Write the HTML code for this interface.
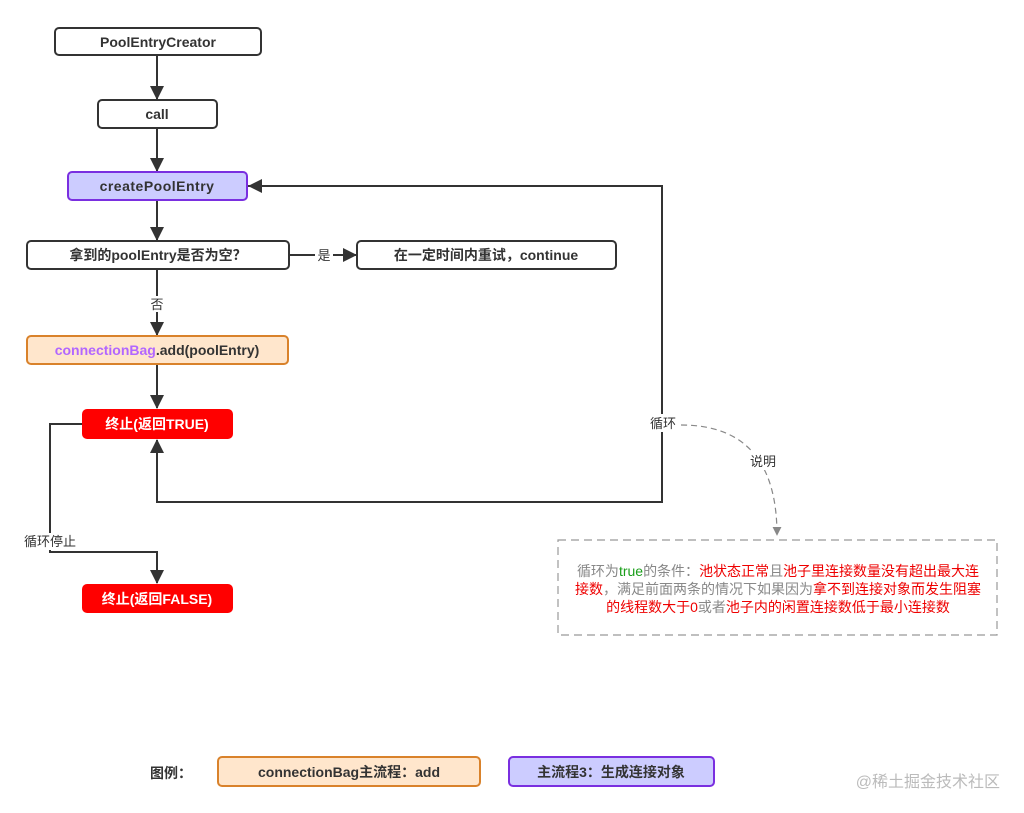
<!DOCTYPE html>
<html><head><meta charset="utf-8"><style>
html,body{margin:0;padding:0;background:#fff;}
svg{display:block;font-family:"Liberation Sans","Noto Sans CJK SC",sans-serif;}
.b{font-weight:bold;font-size:14px;fill:#333;}
</style></head><body>
<svg width="1024" height="813" viewBox="0 0 1024 813" xmlns="http://www.w3.org/2000/svg">
<defs>
<marker id="g" viewBox="0 0 10 10" refX="9" refY="5" markerWidth="9" markerHeight="9" orient="auto" markerUnits="userSpaceOnUse">
<path d="M0,0 L10,5 L0,10 z" fill="#888"/></marker>
</defs>
<g stroke="#333" stroke-width="2" fill="none">
<line x1="157" y1="55" x2="157" y2="99"/>
<line x1="157" y1="128" x2="157" y2="171"/>
<line x1="157" y1="200" x2="157" y2="240"/>
<line x1="157" y1="269" x2="157" y2="296"/>
<line x1="157" y1="312" x2="157" y2="335"/>
<line x1="157" y1="364" x2="157" y2="408"/>
<line x1="289" y1="255" x2="315" y2="255"/>
<line x1="333" y1="255" x2="356" y2="255"/>
<polyline points="157,440 157,502 662,502 662,186 248,186"/>
<polyline points="82,424 50,424 50,552 157,552 157,583"/>
</g>
<g fill="#333">
<path d="M150,86 L164,86 L157,100 z"/>
<path d="M150,158 L164,158 L157,172 z"/>
<path d="M150,227 L164,227 L157,241 z"/>
<path d="M150,322 L164,322 L157,336 z"/>
<path d="M150,395 L164,395 L157,409 z"/>
<path d="M343,248 L343,262 L357,255 z"/>
<path d="M150,453 L164,453 L157,439 z"/>
<path d="M262,179 L262,193 L248,186 z"/>
<path d="M150,570 L164,570 L157,584 z"/>
</g>
<g stroke="#333" stroke-width="2">
<rect x="55" y="28" width="206" height="27" rx="4" fill="#fff"/>
<rect x="98" y="100" width="119" height="28" rx="4" fill="#fff"/>
<rect x="27" y="241" width="262" height="28" rx="4" fill="#fff"/>
<rect x="357" y="241" width="259" height="28" rx="4" fill="#fff"/>
</g>
<rect x="68" y="172" width="179" height="28" rx="4" fill="#ccccff" stroke="#7a2fe0" stroke-width="2"/>
<rect x="27" y="336" width="261" height="28" rx="4" fill="#ffe6cc" stroke="#d9822b" stroke-width="2"/>
<rect x="82" y="409" width="151" height="30" rx="5" fill="#f00"/>
<rect x="82" y="584" width="151" height="29" rx="5" fill="#f00"/>
<text class="b" x="158" y="47" text-anchor="middle">PoolEntryCreator</text>
<text class="b" x="157" y="119" text-anchor="middle">call</text>
<text class="b" x="157" y="191" text-anchor="middle" letter-spacing="0.5">createPoolEntry</text>
<text class="b" x="158" y="260" text-anchor="middle">拿到的poolEntry是否为空？</text>
<text class="b" x="486" y="260" text-anchor="middle">在一定时间内重试，continue</text>
<text class="b" x="157" y="355" text-anchor="middle"><tspan fill="#b266ff">connectionBag</tspan>.add(poolEntry)</text>
<text class="b" x="157" y="429" text-anchor="middle" style="fill:#fff">终止(返回TRUE)</text>
<text class="b" x="157" y="604" text-anchor="middle" style="fill:#fff">终止(返回FALSE)</text>
<g font-size="13" fill="#333">
<text x="324" y="260" text-anchor="middle">是</text>
<rect x="148" y="296" width="18" height="16" fill="#fff"/>
<text x="157" y="309" text-anchor="middle">否</text>
<rect x="646" y="414" width="34" height="18" fill="#fff"/>
<text x="663" y="428" text-anchor="middle">循环</text>
<rect x="22" y="533" width="56" height="17" fill="#fff"/>
<text x="50" y="546" text-anchor="middle">循环停止</text>
</g>
<path d="M681,425 Q777,425 777,535" stroke="#888" stroke-width="1.2" stroke-dasharray="6,4" fill="none" marker-end="url(#g)"/>
<rect x="745" y="452" width="36" height="18" fill="#fff"/>
<text x="763" y="466" text-anchor="middle" font-size="13" fill="#333">说明</text>
<rect x="558" y="540" width="439" height="95" fill="none" stroke="#999" stroke-width="1.2" stroke-dasharray="8,5"/>
<g font-size="14" text-anchor="middle">
<text x="778" y="576" fill="#888">循环为<tspan fill="#1a9e1a">true</tspan>的条件：<tspan fill="#e00">池状态正常</tspan>且<tspan fill="#e00">池子里连接数量没有超出最大连</tspan></text>
<text x="778" y="594" fill="#888"><tspan fill="#e00">接数</tspan>，满足前面两条的情况下如果因为<tspan fill="#e00">拿不到连接对象而发生阻塞</tspan></text>
<text x="778" y="612" fill="#e00">的线程数大于0<tspan fill="#888">或者</tspan>池子内的闲置连接数低于最小连接数</text>
</g>
<text x="150" y="778" class="b" font-size="15">图例：</text>
<rect x="218" y="757" width="262" height="29" rx="4" fill="#ffe6cc" stroke="#d9822b" stroke-width="2"/>
<text class="b" x="349" y="777" text-anchor="middle">connectionBag主流程：add</text>
<rect x="509" y="757" width="205" height="29" rx="4" fill="#ccccff" stroke="#7a2fe0" stroke-width="2"/>
<text class="b" x="611" y="777" text-anchor="middle">主流程3：生成连接对象</text>
<text x="1000" y="787" text-anchor="end" font-size="16" fill="#bbb">@稀土掘金技术社区</text>
</svg>
</body></html>
